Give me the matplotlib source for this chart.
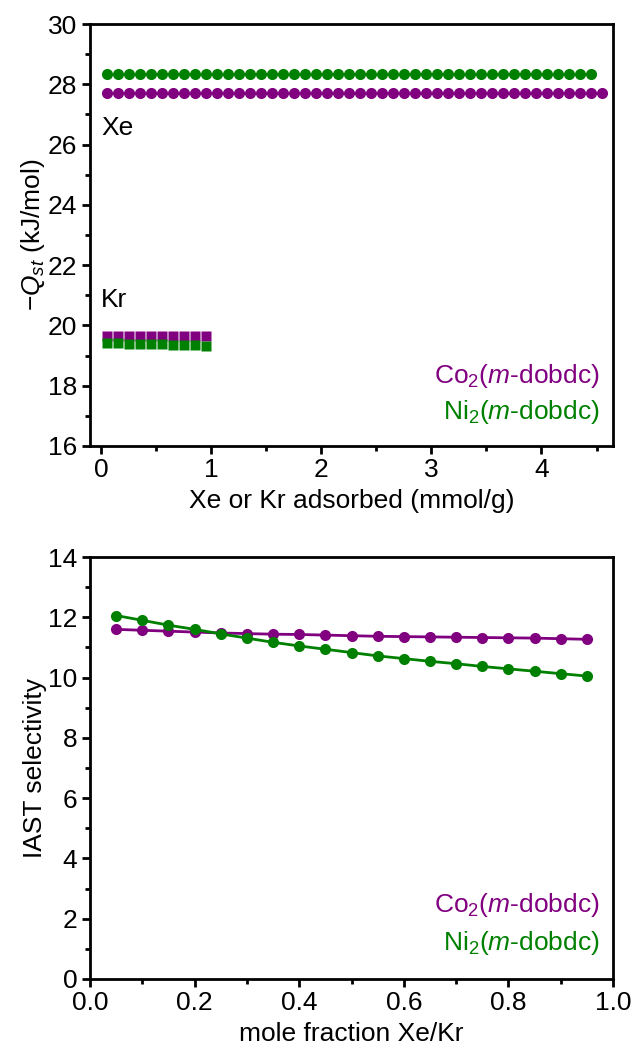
import numpy as np
import matplotlib
matplotlib.use('Agg')
import matplotlib.pyplot as plt
from matplotlib.ticker import MultipleLocator, FormatStrFormatter

plt.rcParams['font.family'] = ['Liberation Sans', 'DejaVu Sans']
plt.rcParams['mathtext.fontset'] = 'custom'
plt.rcParams['mathtext.rm'] = 'Liberation Sans'
plt.rcParams['mathtext.it'] = 'Liberation Sans:italic'
plt.rcParams['font.size'] = 19

purple = '#800080'
green = '#008000'

# Qst data (top panel)
xe_co_x = np.round(np.arange(0.05, 4.56, 0.1), 2)
xe_co_q = [27.7] * len(xe_co_x)
xe_ni_x = np.round(np.arange(0.05, 4.46, 0.1), 2)
xe_ni_q = [28.33] * len(xe_ni_x)
kr_x = [0.05, 0.15, 0.25, 0.35, 0.45, 0.55, 0.65, 0.75, 0.85, 0.95]
kr_co_q = [19.66, 19.66, 19.66, 19.66, 19.66, 19.66, 19.66, 19.66, 19.66, 19.66]
kr_ni_q = [19.40, 19.40, 19.39, 19.39, 19.38, 19.37, 19.36, 19.35, 19.34, 19.33]

# IAST selectivity (bottom panel)
frac = [0.05, 0.10, 0.15, 0.20, 0.25, 0.30, 0.35, 0.40, 0.45, 0.50,
        0.55, 0.60, 0.65, 0.70, 0.75, 0.80, 0.85, 0.90, 0.95]
sel_co = [11.60, 11.57, 11.54, 11.51, 11.48, 11.46, 11.44, 11.43, 11.41, 11.39,
          11.37, 11.36, 11.35, 11.34, 11.33, 11.32, 11.31, 11.29, 11.27]
sel_ni = [12.06, 11.90, 11.74, 11.60, 11.45, 11.31, 11.17, 11.05, 10.94, 10.83,
          10.72, 10.63, 10.54, 10.46, 10.37, 10.29, 10.21, 10.13, 10.05]

fig = plt.figure(figsize=(6.32, 10.54), dpi=100)
ax1 = fig.add_axes([0.1424, 0.5769, 0.8276, 0.4003])
ax2 = fig.add_axes([0.1424, 0.0712, 0.8276, 0.4003])

fs = 19

# top panel
ax1.plot(xe_co_x, xe_co_q, 'o', color=purple, ms=8, mec='none')
ax1.plot(xe_ni_x, xe_ni_q, 'o', color=green, ms=8, mec='none')
ax1.plot(kr_x, kr_co_q, 's', color=purple, ms=7.5, mec='none')
ax1.plot(kr_x, kr_ni_q, 's', color=green, ms=7.5, mec='none')
ax1.text(0.0, 26.55, 'Xe', fontsize=fs, va='center')
ax1.text(0.0, 20.85, 'Kr', fontsize=fs, va='center')
ax1.set_xlim(-0.1, 4.65)
ax1.set_ylim(16, 30)
ax1.xaxis.set_major_locator(MultipleLocator(1))
ax1.xaxis.set_minor_locator(MultipleLocator(0.5))
ax1.yaxis.set_major_locator(MultipleLocator(2))
ax1.yaxis.set_minor_locator(MultipleLocator(1))
ax1.set_xlabel('Xe or Kr adsorbed (mmol/g)', fontsize=fs, labelpad=5)
ax1.set_ylabel(r'$-Q_{st}$ (kJ/mol)', fontsize=fs, labelpad=1)
ax1.text(0.975, 0.165, r'Co$_2$($m$-dobdc)', color=purple, fontsize=fs,
         ha='right', va='center', transform=ax1.transAxes)
ax1.text(0.975, 0.08, r'Ni$_2$($m$-dobdc)', color=green, fontsize=fs,
         ha='right', va='center', transform=ax1.transAxes)

# bottom panel
ax2.plot(frac, sel_co, '-o', color=purple, ms=8, lw=2, mec='none')
ax2.plot(frac, sel_ni, '-o', color=green, ms=8, lw=2, mec='none')
ax2.set_xlim(0, 1)
ax2.set_ylim(0, 14)
ax2.xaxis.set_major_locator(MultipleLocator(0.2))
ax2.xaxis.set_minor_locator(MultipleLocator(0.1))
ax2.yaxis.set_major_locator(MultipleLocator(2))
ax2.yaxis.set_minor_locator(MultipleLocator(1))
ax2.xaxis.set_major_formatter(FormatStrFormatter('%.1f'))
ax2.set_xlabel('mole fraction Xe/Kr', fontsize=fs, labelpad=5)
ax2.set_ylabel('IAST selectivity', fontsize=fs, labelpad=1)
ax2.text(0.975, 0.175, r'Co$_2$($m$-dobdc)', color=purple, fontsize=fs,
         ha='right', va='center', transform=ax2.transAxes)
ax2.text(0.975, 0.085, r'Ni$_2$($m$-dobdc)', color=green, fontsize=fs,
         ha='right', va='center', transform=ax2.transAxes)

for ax in (ax1, ax2):
    for s in ax.spines.values():
        s.set_linewidth(2)
    ax.tick_params(which='major', direction='out', length=6, width=2,
                   labelsize=fs, pad=3)
    ax.tick_params(which='minor', direction='out', length=3.5, width=2)
    ax.tick_params(top=False, right=False, which='both')

fig.savefig('out.png', dpi=100)
